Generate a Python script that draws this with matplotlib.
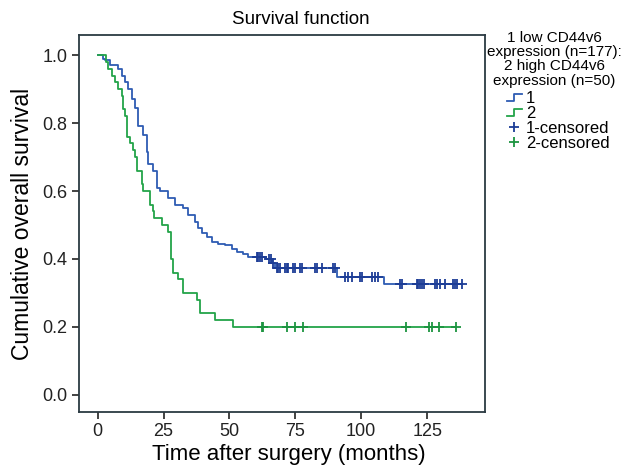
import numpy as np
import matplotlib
matplotlib.use('Agg')
import matplotlib.pyplot as plt
from matplotlib.legend_handler import HandlerBase
from matplotlib.lines import Line2D

plt.rcParams['font.family'] = ['Liberation Sans', 'DejaVu Sans']

# group 1: low CD44v6 expression (n=177)
blue_t = [0, 2.0, 2.7, 4.6, 7.6, 9.1, 10.3, 11.4, 12.9, 14.1, 15.2, 17.1, 18.6, 19.0,
          20.9, 22.4, 23.6, 26.6, 29.3, 32.3, 34.2, 36.9, 38.0, 39.5, 41.4, 43.3, 45.6,
          48.3, 50.9, 52.8, 55.1, 57.0, 64.0, 66.2, 67.2, 90.8, 108.7]
blue_s = [1.0, 0.99, 0.985, 0.97, 0.96, 0.94, 0.92, 0.90, 0.87, 0.845, 0.79, 0.765, 0.715,
          0.68, 0.66, 0.61, 0.60, 0.58, 0.56, 0.55, 0.53, 0.51, 0.49, 0.476, 0.465, 0.45,
          0.445, 0.44, 0.43, 0.42, 0.415, 0.407, 0.399, 0.389, 0.373, 0.347, 0.326]
blue_end = 138.3
blue_cens = [60.4, 60.8, 61.6, 62.3, 65.0, 65.7, 66.5, 68.0, 68.4, 69.2, 71.0, 71.8, 72.2,
             74.1, 74.8, 76.7, 77.5, 82.4, 83.2, 85.1, 89.3, 90.0, 93.8, 95.0, 96.5, 99.5,
             100.3, 104.1, 105.2, 106.4, 114.7, 115.5, 121.2, 121.6, 122.3, 123.1, 123.9,
             128.0, 128.8, 129.9, 131.8, 134.9, 135.6, 136.4, 138.3]

# group 2: high CD44v6 expression (n=50)
green_t = [0, 3.0, 3.8, 5.5, 6.5, 7.6, 9.1, 9.5, 10.3, 11.0, 12.2, 13.3, 14.1, 14.8, 16.7,
           17.1, 19.8, 20.9, 21.5, 24.3, 26.6, 27.7, 28.5, 30.4, 32.3, 37.6, 38.8, 44.5, 51.3]
green_s = [1.0, 0.98, 0.96, 0.94, 0.92, 0.90, 0.88, 0.84, 0.82, 0.76, 0.74, 0.72, 0.70, 0.66,
           0.62, 0.60, 0.56, 0.54, 0.52, 0.50, 0.48, 0.40, 0.36, 0.34, 0.30, 0.28, 0.24, 0.22, 0.20]
green_end = 136.0
green_cens = [62.3, 62.8, 71.8, 74.8, 77.9, 117.0, 125.8, 126.9, 129.6, 136.0]

legend_title = '1 low CD44v6\nexpression (n=177):\n2 high CD44v6\nexpression (n=50)'
legend_labels = ['1', '2', '1-censored', '2-censored']

blue = '#2e5cb3'
blue_dark = '#1d3d96'
green = '#23a449'
green_dark = '#1c9440'


def level_at(times, surv, x):
    idx = np.searchsorted(times, x, side='right') - 1
    return np.asarray(surv)[idx]


class StepHandler(HandlerBase):
    def create_artists(self, legend, orig_handle, xd, yd, width, height, fontsize, trans):
        xs = [xd + 0.05 * width, xd + 0.45 * width, xd + 0.45 * width, xd + 0.95 * width]
        ys = [yd + 0.15 * height, yd + 0.15 * height, yd + 0.75 * height, yd + 0.75 * height]
        ln = Line2D(xs, ys, color=orig_handle.get_color(), lw=1.3, transform=trans)
        return [ln]


fig = plt.figure(figsize=(6.4, 4.74), dpi=100)
ax = fig.add_axes([0.123, 0.131, 0.635, 0.795])

l1, = ax.step(blue_t + [blue_end], blue_s + [blue_s[-1]], where='post', color=blue, lw=1.3)
l2, = ax.step(green_t + [green_end], green_s + [green_s[-1]], where='post', color=green, lw=1.3)
c1, = ax.plot(blue_cens, level_at(blue_t, blue_s, blue_cens), '+', color=blue_dark,
              ms=7.5, mew=1.3, ls='none')
c2, = ax.plot(green_cens, level_at(green_t, green_s, green_cens), '+', color=green_dark,
              ms=7.5, mew=1.3, ls='none')

ax.set_xlim(-7.2, 147)
ax.set_ylim(-0.05, 1.059)
ax.set_xticks([0, 25, 50, 75, 100, 125])
ax.set_yticks([0.0, 0.2, 0.4, 0.6, 0.8, 1.0])
ax.set_yticklabels(['0.0', '0.2', '0.4', '0.6', '0.8', '1.0'])
ax.tick_params(direction='out', length=5, width=1.2, labelsize=13, colors='#222222',
               top=False, right=False, pad=3)
for sp in ax.spines.values():
    sp.set_color('#2b3a42')
    sp.set_linewidth(1.3)

ax.set_title('Survival function', fontsize=13.5, x=0.547, pad=8)
ax.set_xlabel('Time after surgery (months)', fontsize=16, labelpad=2)
ax.xaxis.set_label_coords(0.518, -0.085)
ax.set_ylabel('Cumulative overall survival', fontsize=16.5, labelpad=6)

fig.text(554 / 640, 1 - 31 / 474, legend_title, ha='center', va='top', fontsize=11,
         linespacing=1.02)
leg = fig.legend([l1, l2, c1, c2], legend_labels,
                 loc='upper left', bbox_to_anchor=(506 / 640, 1 - 91 / 474),
                 frameon=False, fontsize=12,
                 handler_map={l1: StepHandler(), l2: StepHandler()},
                 handlelength=1.0, handletextpad=0.2, labelspacing=0.0,
                 borderaxespad=0.0, borderpad=0.0)

fig.savefig('out.png', dpi=100)
